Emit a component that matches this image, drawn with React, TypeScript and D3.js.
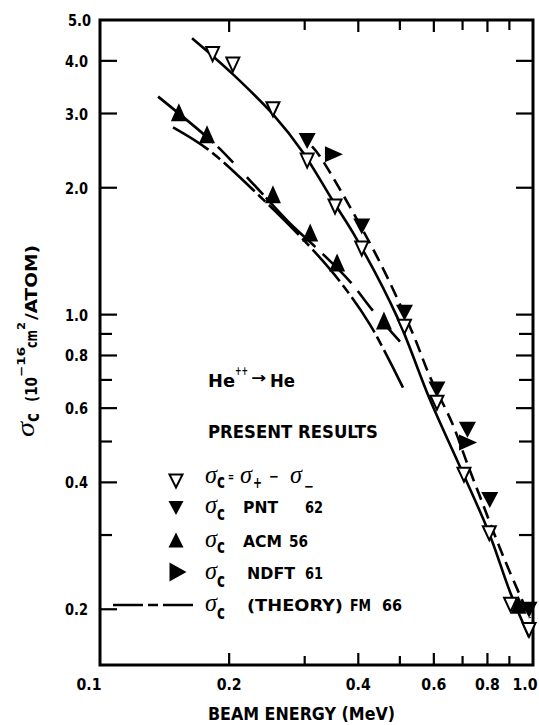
import React from "react";
import * as d3 from "d3";

// ---- axes ----
const xMajorTicks = [0.1, 0.2, 0.4, 0.6, 0.8, 1.0];
const xMajorLabels = ["0.1", "0.2", "0.4", "0.6", "0.8", "1.0"];
const xMinorTicks = [0.3, 0.5, 0.7, 0.9];
const yMajorTicks = [5.0, 4.0, 3.0, 2.0, 1.0, 0.8, 0.6, 0.4, 0.2];
const yMajorLabels = ["5.0", "4.0", "3.0", "2.0", "1.0", "0.8", "0.6", "0.4", "0.2"];
const yMinorTicks = [0.9, 0.7, 0.5, 0.3];

// ---- measured points (beam energy MeV, sigma 1e-16 cm2/atom) ----
const openEnergy = [0.183, 0.204, 0.253, 0.304, 0.353, 0.4075, 0.5125, 0.61, 0.7053, 0.808, 0.9056, 1.0];
const openSigma = [4.15, 3.92, 3.07, 2.32, 1.805, 1.435, 0.936, 0.618, 0.417, 0.303, 0.205, 0.1786];

const pntEnergy = [0.304, 0.4075, 0.5125, 0.61, 0.7185, 0.81, 1.0];
const pntSigma = [2.58, 1.618, 1.01, 0.664, 0.533, 0.3635, 0.1995];

const acmEnergy = [0.1527, 0.1776, 0.253, 0.309, 0.357, 0.459, 0.945];
const acmSigma = [3.02, 2.68, 1.93, 1.566, 1.33, 0.968, 0.205];

const ndftEnergy = [0.351, 0.721];
const ndftSigma = [2.4, 0.497];

// ---- drawn curves ----
const fitOpenEnergy = [0.1639, 0.1834, 0.2042, 0.2531, 0.2973, 0.3474, 0.3972, 0.4923, 0.5878, 0.6905, 0.8068, 0.9032, 1.0];
const fitOpenSigma = [4.525, 4.101, 3.716, 2.986, 2.426, 1.876, 1.507, 0.989, 0.628, 0.4355, 0.3035, 0.2198, 0.172];

const fitPntEnergy = [0.312, 0.3257, 0.4422, 0.5337, 0.5878, 0.6614, 0.7168, 0.7689, 0.8698, 1.005];
const fitPntSigma = [2.507, 2.373, 1.373, 0.911, 0.712, 0.554, 0.445, 0.3696, 0.2677, 0.1907];

const fitAcmEnergy = [0.1366, 0.1834, 0.2042, 0.2398, 0.2773, 0.3171, 0.3826, 0.4306, 0.5004];
const fitAcmSigma = [3.29, 2.562, 2.297, 1.928, 1.645, 1.45, 1.198, 1.028, 0.863];

const theoryEnergy = [0.148, 0.1785, 0.236, 0.3054, 0.3626, 0.4259, 0.5085];
const theorySigma = [2.782, 2.466, 1.907, 1.466, 1.198, 0.947, 0.671];

const W = 539;
const H = 725;
const SANS = "'Liberation Sans Narrow','Arial Narrow','DejaVu Sans Condensed','Liberation Sans',Arial,sans-serif";
const SERIF = "'Liberation Serif','Times New Roman',serif";

const x = d3.scaleLog().domain([0.1, 1.0216]).range([100, 533]);
const y = d3.scaleLog().domain([0.1475, 5]).range([665, 20]);

const pair = (e: number[], s: number[]) => e.map((v, i) => [v, s[i]] as [number, number]);
const lineGen = d3
  .line<[number, number]>()
  .x((d) => x(d[0]))
  .y((d) => y(d[1]))
  .curve(d3.curveCatmullRom.alpha(0.5));

const down = (w: number, h: number) => `M${-w / 2},${-h / 2}L${w / 2},${-h / 2}L0,${h / 2}Z`;
const up = (w: number, h: number) => `M${-w / 2},${h / 2}L${w / 2},${h / 2}L0,${-h / 2}Z`;
const right = (w: number, h: number) => `M${-w / 2},${-h / 2}L${w / 2},0L${-w / 2},${h / 2}Z`;

function T(props: {
  x: number;
  y: number;
  w?: number;
  size: number;
  anchor?: string;
  serif?: boolean;
  italic?: boolean;
  children: React.ReactNode;
}) {
  const { x: tx, y: ty, w, size, anchor, serif, italic, children } = props;
  return (
    <text
      x={tx}
      y={ty}
      fontSize={size}
      fontFamily={serif ? SERIF : SANS}
      fontWeight={serif ? "normal" : "bold"}
      fontStyle={italic ? "italic" : "normal"}
      textAnchor={anchor || "start"}
      textLength={w}
      lengthAdjust={w ? "spacingAndGlyphs" : undefined}
      fill="#000"
    >
      {children}
    </text>
  );
}

function Sigma({ x: sx, y: sy, sub, subDy = 6 }: { x: number; y: number; sub: string; subDy?: number }) {
  return (
    <g>
      <T x={sx} y={sy} w={12} size={26} serif italic>
        σ
      </T>
      <T x={sx + 12} y={sy + subDy} w={8} size={19}>
        {sub}
      </T>
    </g>
  );
}

export default function App() {
  const [x0, x1] = x.range();
  const [y0, y1] = y.range();
  return (
    <svg width={W} height={H} style={{ display: "block", position: "absolute", left: 0, top: 0 }}>
      <rect x={0} y={0} width={W} height={H} fill="#fff" />
      {/* frame */}
      <rect x={x0} y={y1} width={x1 - x0} height={y0 - y1} fill="none" stroke="#000" strokeWidth={3} />
      {/* x ticks */}
      {xMajorTicks.filter((t) => t > 0.1 && t < 1).map((t) => (
        <g key={"xM" + t}>
          <line x1={x(t)} x2={x(t)} y1={y0} y2={y0 - 12} stroke="#000" strokeWidth={2.2} />
          <line x1={x(t)} x2={x(t)} y1={y1} y2={y1 + 12} stroke="#000" strokeWidth={2.2} />
        </g>
      ))}
      {xMinorTicks.map((t) => (
        <g key={"xm" + t}>
          <line x1={x(t)} x2={x(t)} y1={y0} y2={y0 - 9} stroke="#000" strokeWidth={2.2} />
          <line x1={x(t)} x2={x(t)} y1={y1} y2={y1 + 10} stroke="#000" strokeWidth={2.2} />
        </g>
      ))}
      {/* y ticks */}
      {yMajorTicks.filter((t) => t < 5).map((t) => (
        <g key={"yM" + t}>
          <line x1={x0} x2={x0 + 17} y1={y(t)} y2={y(t)} stroke="#000" strokeWidth={2.2} />
          <line x1={x1} x2={x1 - 17} y1={y(t)} y2={y(t)} stroke="#000" strokeWidth={2.2} />
        </g>
      ))}
      {yMinorTicks.map((t) => (
        <g key={"ym" + t}>
          <line x1={x0} x2={x0 + 12} y1={y(t)} y2={y(t)} stroke="#000" strokeWidth={2.2} />
          <line x1={x1} x2={x1 - 14} y1={y(t)} y2={y(t)} stroke="#000" strokeWidth={2.2} />
        </g>
      ))}
      {/* tick labels */}
      {yMajorTicks.map((t, i) => (
        <T key={"yl" + t} x={t === 5 ? 91 : 88} y={y(t) + 6} w={23} size={16.5} anchor="end">
          {yMajorLabels[i]}
        </T>
      ))}
      {xMajorTicks.map((t, i) => (
        <T key={"xl" + t} x={x(t) + (t === 0.1 ? -11 : t === 1 ? -4 : 0)} y={690} w={25} size={16.5} anchor="middle">
          {xMajorLabels[i]}
        </T>
      ))}

      {/* curves */}
      <path d={lineGen(pair(fitOpenEnergy, fitOpenSigma)) || ""} fill="none" stroke="#000" strokeWidth={2.6} />
      <path
        d={lineGen(pair(fitPntEnergy, fitPntSigma)) || ""}
        fill="none"
        stroke="#000"
        strokeWidth={2.6}
        strokeDasharray="13 7"
      />
      <path
        d={lineGen(pair(fitAcmEnergy, fitAcmSigma)) || ""}
        fill="none"
        stroke="#000"
        strokeWidth={2.6}
        strokeDasharray="72 6 22 20 24 4 70 10 41 10 25 12 40"
      />
      <path
        d={lineGen(pair(theoryEnergy, theorySigma)) || ""}
        fill="none"
        stroke="#000"
        strokeWidth={2.6}
        strokeDasharray="42 5 10 5"
      />

      {/* filled markers */}
      {acmEnergy.map((e, i) => (
        <path key={"a" + i} d={up(16, 18)} transform={`translate(${x(e)},${y(acmSigma[i])})`} fill="#000" />
      ))}
      {pntEnergy.map((e, i) => (
        <path key={"p" + i} d={down(17, 16)} transform={`translate(${x(e)},${y(pntSigma[i])})`} fill="#000" />
      ))}
      {ndftEnergy.map((e, i) => (
        <path key={"n" + i} d={right(18, 16)} transform={`translate(${x(e)},${y(ndftSigma[i])})`} fill="#000" />
      ))}
      {/* open markers */}
      {openEnergy.map((e, i) => (
        <path
          key={"o" + i}
          d={down(13, 14)}
          transform={`translate(${x(e)},${y(openSigma[i])})`}
          fill="#fff"
          stroke="#000"
          strokeWidth={2}
          strokeLinejoin="miter"
        />
      ))}

      {/* annotation */}
      <T x={208} y={387} w={27} size={17}>He</T>
      <T x={235} y={375} w={13} size={12}>++</T>
      <T x={251} y={383} w={15} size={15}>→</T>
      <T x={270} y={387} w={25} size={17}>He</T>
      <T x={208} y={438} w={170} size={17}>PRESENT RESULTS</T>

      {/* legend */}
      <path d={down(13, 13)} transform="translate(176,481)" fill="#fff" stroke="#000" strokeWidth={2} />
      <Sigma x={205} y={483} sub="c" subDy={5} />
      <T x={228} y={481} w={6} size={13}>=</T>
      <T x={240} y={483} w={12} size={26} serif italic>σ</T>
      <T x={253} y={488} w={9} size={15}>+</T>
      <T x={269} y={481} w={10} size={14}>−</T>
      <T x={290} y={483} w={12} size={26} serif italic>σ</T>
      <T x={304} y={491} w={10} size={14}>−</T>

      <path d={down(15, 14)} transform="translate(176,508)" fill="#000" />
      <Sigma x={205} y={513} sub="c" subDy={7} />
      <T x={243} y={513} w={35} size={16.5}>PNT</T>
      <T x={305} y={513} w={18} size={16.5}>62</T>

      <path d={up(15, 15)} transform="translate(176,540)" fill="#000" />
      <Sigma x={205} y={547} sub="c" subDy={6} />
      <T x={243} y={547} w={39} size={16.5}>ACM</T>
      <T x={289} y={547} w={19} size={16.5}>56</T>

      <path d={right(17, 19)} transform="translate(178,572)" fill="#000" />
      <Sigma x={205} y={579} sub="c" subDy={8} />
      <T x={247} y={579} w={48} size={16.5}>NDFT</T>
      <T x={305} y={579} w={18} size={16.5}>61</T>

      <line x1={113} x2={193} y1={605} y2={605} stroke="#000" strokeWidth={2.4} strokeDasharray="30 5 10 5" />
      <Sigma x={205} y={611} sub="c" subDy={8} />
      <T x={247} y={611} w={96} size={16.5}>(THEORY)</T>
      <T x={350} y={611} w={21} size={16.5}>FM</T>
      <T x={382} y={611} w={20} size={16.5}>66</T>

      {/* axis titles */}
      <T x={208} y={720} w={187} size={18.5}>BEAM ENERGY (MeV)</T>
      <g transform="translate(37,437) rotate(-90)">
        <T x={0} y={-3} w={15} size={26} serif italic>σ</T>
        <T x={15} y={2} w={9} size={19}>c</T>
        <T x={35} y={0} w={25} size={16.5}>(10</T>
        <T x={60} y={-12} w={30} size={11}>−16</T>
        <T x={89} y={0} w={18} size={16.5}>cm</T>
        <T x={107} y={-12} w={8} size={11}>2</T>
        <T x={117} y={0} w={75} size={16.5}>/ATOM)</T>
      </g>
    </svg>
  );
}
